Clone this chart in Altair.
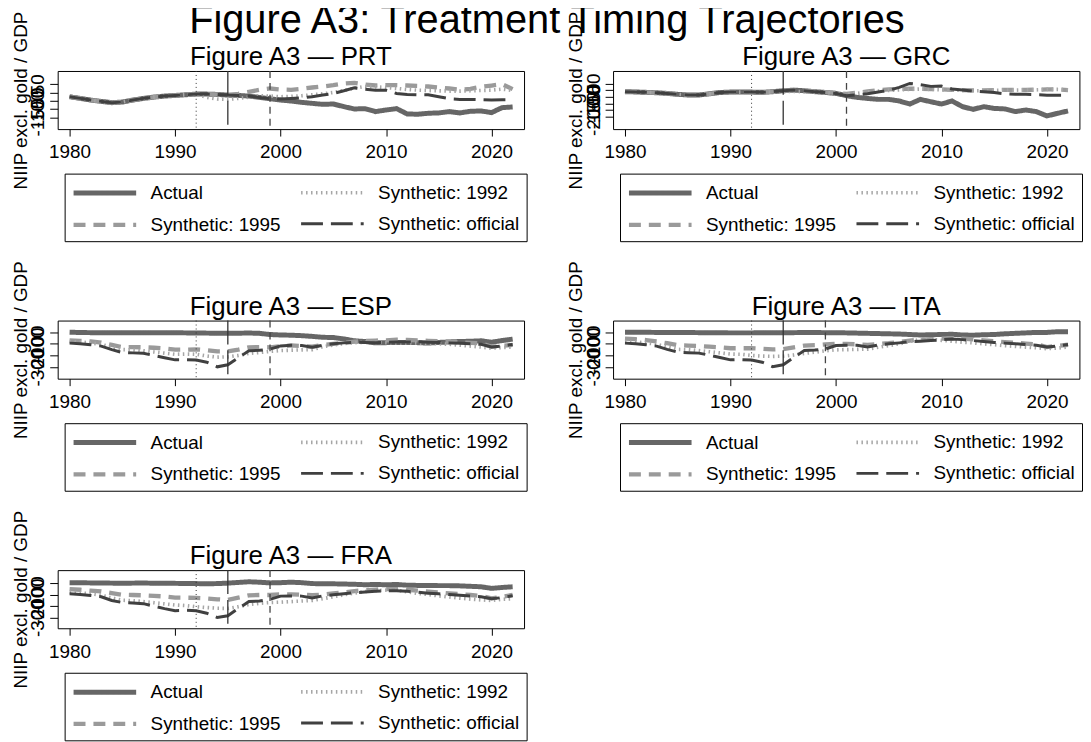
import altair as alt
import pandas as pd

FONT = "Liberation Sans"
YEARS = list(range(1980, 2023))
COUNTRIES = ["PRT", "GRC", "ESP", "ITA", "FRA"]
SERIES = ["Actual", "Synthetic: 1995", "Synthetic: 1992", "Synthetic: official"]
SERIES_COLORS = ["#666666", "#9a9a9a", "#a6a6a6", "#404040"]
SERIES_DASH = [[1, 0], [12, 8], [1.5, 3.5], [22, 8]]
SERIES_WIDTH = [5, 3, 1.5, 3]
TREATMENT_YEARS = [1999, 2001, 1999, 1999, 1999]
Y_DOMAINS = [[-222, 130], [-294, 144], [-400, 100], [-400, 100], [-394, 116]]
Y_TICKS = [[-150, -100, -50, 0, 50], [-200, -150, -100, -50, 0, 50],
           [-300, -200, -100, 0], [-300, -200, -100, 0], [-300, -200, -100, 0]]

# ---- PRT ----
PRT_ACTUAL = [-26, -36, -46, -54, -62, -58, -46, -36, -28, -22,
              -18, -14, -10, -10, -12, -16, -18, -22, -30, -38,
              -46, -52, -60, -66, -72, -70, -86, -100, -98, -116,
              -106, -98, -130, -132, -126, -124, -116, -124, -114, -112,
              -122, -92, -88]
PRT_SYN1992_POST = [-10, -30, -40, -42, -36, -28, -20, -22, -26, -24,
                    -20, -14, -8, 0, 12, 26, 36, 34, 30, 24,
                    18, 14, 12, 10, 8, 8, 10, 12, 14, 20, 12]
PRT_SYN1995_POST = [-16, -8, 4, 16, 24, 18, 16, 22, 30, 36,
                    44, 54, 58, 48, 42, 44, 44, 42, 40, 36,
                    30, 24, 16, 22, 34, 42, 50, 20]
PRT_OFFICIAL_POST = [-38, -40, -36, -32, -26, -16, -6, 10, 28, 20,
                     14, 14, -6, -12, -14, -14, -26, -38, -42, -42,
                     -44, -46, -44, -44]
PRT_SYN1992 = PRT_ACTUAL[:12] + PRT_SYN1992_POST
PRT_SYN1995 = PRT_ACTUAL[:15] + PRT_SYN1995_POST
PRT_OFFICIAL = PRT_ACTUAL[:19] + PRT_OFFICIAL_POST

# ---- GRC ----
GRC_ACTUAL = [-12, -14, -17, -20, -25, -32, -37, -37, -28, -18,
              -15, -15, -15, -17, -12, -5, 0, -5, -12, -18,
              -25, -42, -55, -63, -70, -70, -82, -105, -70, -88,
              -105, -82, -125, -145, -125, -138, -142, -162, -150, -162,
              -195, -175, -157]
GRC_SYN1992_POST = [-15, -17, -14, -12, -10, -12, -15, -20, -25, -30,
                    -25, -15, -8, -2, 2, 5, 8, 5, 2, 0,
                    -2, -5, -5, -2, 0, 0, 2, 2, 5, 5, 2]
GRC_SYN1995_POST = [-5, -2, -5, -10, -15, -22, -28, -20, -10, -2,
                    5, 8, 10, 10, 8, 5, 2, 0, -2, -2,
                    0, 2, 2, 2, 3, 5, 5, 0]
GRC_OFFICIAL_POST = [-42, -35, -28, -15, -2, 20, 50, 40, 28, 30,
                     8, 0, -8, -12, -18, -28, -32, -32, -35, -38,
                     -38, -38]
GRC_SYN1992 = GRC_ACTUAL[:12] + GRC_SYN1992_POST
GRC_SYN1995 = GRC_ACTUAL[:15] + GRC_SYN1995_POST
GRC_OFFICIAL = GRC_ACTUAL[:21] + GRC_OFFICIAL_POST

# ---- ESP ----
ESP_ACTUAL = [0, -3, -4, -5, -5, -5, -4, -4, -4, -5,
              -5, -6, -7, -8, -9, -10, -9, -7, -10, -20,
              -24, -26, -30, -36, -44, -46, -58, -74, -80, -92,
              -90, -88, -88, -90, -94, -88, -84, -80, -78, -74,
              -86, -72, -60]
ESP_SYN1992 = [-80, -85, -92, -105, -130, -150, -152, -160, -170, -180,
               -190, -188, -190, -205, -215, -212, -200, -182, -175, -165,
               -158, -155, -152, -150, -125, -110, -98, -90, -86, -88,
               -90, -92, -92, -94, -96, -100, -104, -112, -120, -128,
               -138, -132, -128]
ESP_SYN1995 = [-70, -74, -80, -90, -110, -128, -128, -130, -134, -140,
               -150, -150, -148, -155, -165, -165, -150, -130, -128, -130,
               -122, -114, -118, -125, -110, -100, -92, -82, -76, -72,
               -70, -65, -66, -70, -74, -78, -82, -88, -92, -96,
               -125, -118, -110]
ESP_OFFICIAL = [-94, -100, -108, -120, -150, -175, -178, -182, -200, -220,
                -238, -236, -240, -258, -298, -280, -220, -160, -156, -145,
                -118, -112, -115, -130, -112, -100, -92, -86, -88, -90,
                -88, -84, -84, -82, -86, -88, -92, -96, -100, -104,
                -128, -118, -106]

# ---- ITA ----
ITA_ACTUAL = [0, 0, -1, -2, -2, -3, -3, -4, -4, -5,
              -6, -6, -6, -5, -5, -5, -4, -3, -3, -4,
              -4, -6, -8, -10, -12, -14, -16, -20, -24, -22,
              -20, -18, -24, -26, -22, -20, -14, -10, -6, -2,
              -2, 4, 4]
ITA_SYN1992 = [-80, -85, -92, -104, -128, -148, -150, -158, -168, -178,
               -188, -190, -200, -206, -208, -206, -196, -182, -172, -160,
               -152, -150, -148, -146, -130, -115, -100, -80, -64, -62,
               -70, -78, -86, -92, -100, -108, -116, -122, -128, -134,
               -142, -136, -128]
ITA_SYN1995 = [-55, -60, -68, -80, -95, -112, -115, -118, -125, -130,
               -138, -138, -138, -142, -148, -145, -130, -115, -112, -105,
               -100, -100, -105, -110, -102, -95, -85, -72, -64, -60,
               -56, -52, -56, -62, -70, -78, -86, -92, -98, -105,
               -128, -118, -108]
ITA_OFFICIAL = [-94, -100, -108, -120, -148, -172, -176, -180, -198, -218,
                -238, -236, -240, -258, -296, -280, -218, -158, -154, -145,
                -115, -112, -112, -128, -110, -100, -92, -82, -78, -72,
                -66, -58, -64, -72, -80, -88, -94, -100, -106, -112,
                -128, -118, -106]

# ---- FRA ----
FRA_ACTUAL = [6, 5, 4, 3, 2, 1, 2, 3, 1, 0,
              0, -1, -2, -4, -2, 2, 8, 14, 10, 4,
              6, 10, 6, -2, -4, -4, -6, -8, -12, -10,
              -12, -10, -16, -18, -18, -20, -20, -22, -26, -30,
              -44, -36, -30]
FRA_SYN1992 = [-78, -84, -92, -104, -128, -148, -152, -160, -170, -180,
               -190, -195, -205, -212, -218, -220, -205, -185, -175, -168,
               -165, -160, -155, -150, -135, -118, -100, -85, -72, -65,
               -60, -60, -75, -88, -98, -110, -120, -130, -138, -145,
               -150, -140, -135]
FRA_SYN1995 = [-50, -56, -64, -70, -85, -100, -102, -105, -110, -115,
               -125, -126, -128, -132, -140, -145, -125, -105, -102, -102,
               -96, -96, -100, -104, -98, -88, -80, -68, -60, -55,
               -50, -50, -56, -64, -72, -80, -88, -95, -102, -110,
               -132, -118, -102]
FRA_OFFICIAL = [-92, -98, -106, -118, -150, -168, -172, -178, -200, -222,
                -240, -236, -240, -262, -300, -285, -220, -160, -155, -140,
                -112, -110, -112, -128, -110, -100, -92, -82, -76, -70,
                -66, -64, -70, -78, -86, -92, -98, -104, -112, -118,
                -135, -125, -108]

# order matches SERIES
PANEL_SERIES = [
    [PRT_ACTUAL, PRT_SYN1995, PRT_SYN1992, PRT_OFFICIAL],
    [GRC_ACTUAL, GRC_SYN1995, GRC_SYN1992, GRC_OFFICIAL],
    [ESP_ACTUAL, ESP_SYN1995, ESP_SYN1992, ESP_OFFICIAL],
    [ITA_ACTUAL, ITA_SYN1995, ITA_SYN1992, ITA_OFFICIAL],
    [FRA_ACTUAL, FRA_SYN1995, FRA_SYN1992, FRA_OFFICIAL],
]

PLOT_W = 469.4
PLOT_H = 58.5


def make_panel(idx):
    code = COUNTRIES[idx]
    rows = []
    for name, values in zip(SERIES, PANEL_SERIES[idx]):
        for yr, v in zip(YEARS, values):
            rows.append({"year": yr, "value": v, "series": name})
    df = pd.DataFrame(rows)
    vdf = pd.DataFrame({"year": [1992, 1995, TREATMENT_YEARS[idx]],
                        "kind": ["t1992", "t1995", "official"]})

    legend = alt.Legend(
        orient="none", legendX=7, legendY=103.3, columns=2, title=None,
        symbolType="M-1,0H5", symbolSize=441, labelFontSize=19,
        labelFont=FONT, labelColor="black", labelOffset=54, labelLimit=400,
        columnPadding=13, rowPadding=9, padding=6.5, strokeColor="black",
        labelBaseline="middle",
    )
    x = alt.X("year:Q",
              scale=alt.Scale(domain=[1978.87, 2023.08], nice=False, zero=False),
              axis=alt.Axis(values=[1980, 1990, 2000, 2010, 2020], format="d",
                            tickSize=7, labelPadding=7, labelFontSize=19,
                            labelColor="black", tickColor="black", domain=False,
                            grid=False, title=None, labelFlush=False,
                            labelOverlap=False))
    y = alt.Y("value:Q",
              scale=alt.Scale(domain=Y_DOMAINS[idx], nice=False, zero=False),
              axis=alt.Axis(values=Y_TICKS[idx], tickSize=8, labelPadding=6,
                            labelAngle=270, labelAlign="center",
                            labelBaseline="alphabetic", labelOverlap=False,
                            labelFlush=False, labelFontSize=19, labelColor="black",
                            tickColor="black", labelExpr="datum.value + ''",
                            domain=False, grid=False,
                            title="NIIP excl. gold / GDP", titleFontSize=19,
                            titleFontWeight="normal", titleColor="black",
                            titleAngle=270, titleX=-31.7, titleY=PLOT_H / 2,
                            titleAlign="center", titleBaseline="alphabetic"))
    lines = alt.Chart(df).mark_line(clip=True, strokeCap="butt").encode(
        x=x, y=y,
        color=alt.Color("series:N", scale=alt.Scale(domain=SERIES, range=SERIES_COLORS), legend=legend),
        strokeDash=alt.StrokeDash("series:N", scale=alt.Scale(domain=SERIES, range=SERIES_DASH), legend=legend),
        strokeWidth=alt.StrokeWidth("series:N", scale=alt.Scale(domain=SERIES, range=SERIES_WIDTH), legend=legend),
    )
    vbase = alt.Chart(vdf)
    r1 = vbase.transform_filter(alt.datum.kind == "t1992").mark_rule(
        color="#333333", strokeWidth=1, strokeDash=[1, 3]).encode(x=x)
    r2 = vbase.transform_filter(alt.datum.kind == "t1995").mark_rule(
        color="#333333", strokeWidth=1.3, strokeDash=[24, 6]).encode(x=x)
    r3 = vbase.transform_filter(alt.datum.kind == "official").mark_rule(
        color="#444444", strokeWidth=1.3, strokeDash=[7, 5]).encode(x=x)
    return alt.layer(lines, r1, r2, r3).properties(
        width=PLOT_W, height=PLOT_H,
        title=alt.TitleParams(f"Figure A3 \u2014 {code}", fontSize=26, font=FONT,
                              fontWeight="normal", color="black", anchor="middle",
                              frame="group", baseline="alphabetic", offset=-80.6),
    )


panels = [make_panel(i) for i in range(len(COUNTRIES))]

chart = alt.concat(
    *panels, columns=2, bounds="flush",
    spacing=alt.RowColnumber(row=192.2, column=89),
).resolve_scale(
    x="independent", y="independent", color="independent",
    strokeDash="independent", strokeWidth="independent",
).resolve_legend(
    color="independent", strokeDash="independent", strokeWidth="independent",
).properties(
    title=alt.TitleParams("Figure A3: Treatment Timing Trajectories", fontSize=40,
                          font=FONT, fontWeight="normal", color="black",
                          anchor="middle", baseline="alphabetic", offset=-62.6),
    padding={"top": -10, "left": 2, "right": 0, "bottom": 0},
    background="white",
).configure(font=FONT).configure_view(stroke="black", strokeWidth=1)

chart.save("out.html", embed_options={"renderer": "svg", "actions": False})
